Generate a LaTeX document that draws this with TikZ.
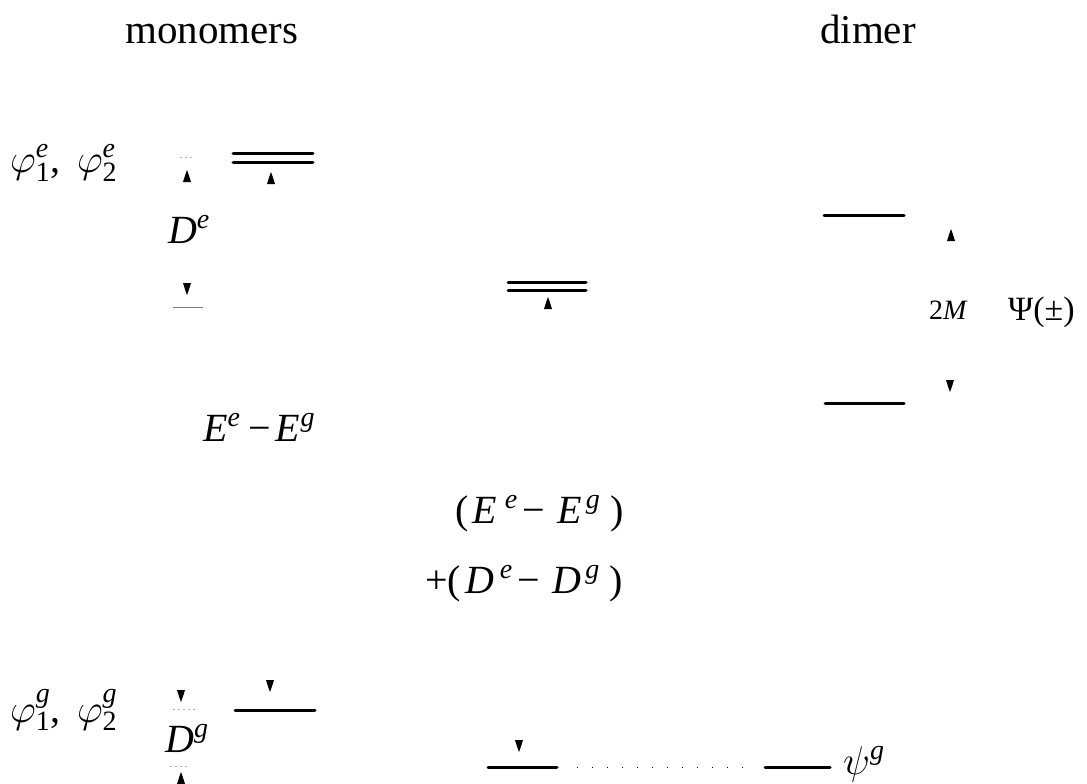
\documentclass[tikz,border=0pt]{standalone}
\usepackage{fix-cm}
\usepackage{amsmath}
\usepackage{fontspec}
\setmainfont{Liberation Serif}
\tikzset{
  x=1pt, y=-1pt,
  lvl/.style={line width=3pt, line cap=round},
  faint/.style={gray!60, line width=0.8pt, dash pattern=on 2pt off 3pt},
  head/.style={font=\fontsize{41}{46}\selectfont, inner sep=0pt},
  lab/.style={font=\fontsize{40}{46}\selectfont, inner sep=0pt},
  small/.style={font=\fontsize{28}{32}\selectfont, inner sep=0pt},
  uptip/.pic={\fill (0,0) .. controls (-1.5,4) .. (-4,12) -- (4,12) .. controls (1.5,4) .. (0,0) -- cycle;},
  downtip/.pic={\fill (0,0) .. controls (-1.5,-4) .. (-4,-12) -- (4,-12) .. controls (1.5,-4) .. (0,0) -- cycle;}
}
\newcommand{\ii}[1]{\textit{#1}}
\newcommand{\supit}[1]{\textsuperscript{\ii{#1}}}
\begin{document}
\begin{tikzpicture}
\useasboundingbox (0,0) rectangle (1087,784);
% headings
\node[head, anchor=base] (mono) at (212,44) {monomers};
\node[head, anchor=base] (dim) at (868,44) {dimer};
% monomer excited
\node[lab, anchor=base west] (phie) at (10,172) {$\varphi^{\ii{e}}_{\text{1}}$, \,$\varphi^{\ii{e}}_{\text{2}}$};
\coordinate (fe1a) at (180,157); \coordinate (fe1b) at (193,157);
\draw[faint] (fe1a) -- (fe1b);
\pic at (187,170) {uptip};
\coordinate (ee1) at (233,153); \coordinate (ee2) at (313,153);
\coordinate (ee3) at (233,162); \coordinate (ee4) at (313,162);
\draw[lvl] (ee1) -- (ee2);
\draw[lvl] (ee3) -- (ee4);
\pic at (271,172) {uptip};
\node[lab, anchor=base] (De) at (189,243) {\ii{D}\supit{e}};
\pic at (187,295) {downtip};
\coordinate (fe2a) at (173,307); \coordinate (fe2b) at (203,307);
\draw[gray, line width=1pt] (fe2a) -- (fe2b);
% middle excited double line
\coordinate (me1) at (508,282); \coordinate (me2) at (586,282);
\coordinate (me3) at (508,290); \coordinate (me4) at (586,290);
\draw[lvl] (me1) -- (me2);
\draw[lvl] (me3) -- (me4);
\pic at (548,297) {uptip};
% dimer excited
\coordinate (du1) at (824,215); \coordinate (du2) at (904,215);
\draw[lvl] (du1) -- (du2);
\pic at (951,229) {uptip};
\node[small, anchor=base west] (twoM) at (929,319) {2\ii{M}};
\node[lab, anchor=base west, font=\fontsize{34}{40}\selectfont] (Psi) at (1008,320) {Ψ(±)};
\coordinate (dl1) at (825,403); \coordinate (dl2) at (904,403);
\draw[lvl] (dl1) -- (dl2);
\pic at (950,392) {downtip};
% energy labels
\node[lab, anchor=base west] (EE) at (203,441) {\ii{E}\supit{e}\hspace{8pt}−\hspace{4pt}\ii{E}\hspace{1pt}\supit{g}};
\node[lab, anchor=base west] (EE2) at (455,523) {(\hspace{4pt}\ii{E}\hspace{8pt}\supit{e}\hspace{5pt}−\hspace{12pt}\ii{E}\hspace{4pt}\supit{g}\hspace{10pt})};
\node[lab, anchor=base west] (DD) at (425,593) {+(\hspace{4pt}\ii{D}\hspace{6pt}\supit{e}\hspace{5pt}−\hspace{12pt}\ii{D}\hspace{4pt}\supit{g}\hspace{10pt})};
% monomer ground
\node[lab, anchor=base west] (phig) at (10,722) {$\varphi^{\ii{g}}_{\text{1}}$, \,$\varphi^{\ii{g}}_{\text{2}}$};
\pic at (181,702) {downtip};
\coordinate (fg1a) at (173,709); \coordinate (fg1b) at (197,709);
\draw[faint] (fg1a) -- (fg1b);
\node[lab, anchor=base] (Dg) at (187,752) {\ii{D}\supit{g}};
\coordinate (fg2a) at (170,766); \coordinate (fg2b) at (187,766);
\draw[faint] (fg2a) -- (fg2b);
\pic at (181,772) {uptip};
\coordinate (mg1) at (235,710); \coordinate (mg2) at (315,710);
\draw[lvl] (mg1) -- (mg2);
\pic at (270,692) {downtip};
% middle ground + dimer ground
\coordinate (cg1) at (488,767); \coordinate (cg2) at (557,767);
\draw[lvl] (cg1) -- (cg2);
\pic at (519,752) {downtip};
\coordinate (dot1) at (577,767); \coordinate (dot2) at (753,767);
\draw[line width=1pt, dash pattern=on 1pt off 14pt] (dot1) -- (dot2);
\coordinate (gg1) at (765,767); \coordinate (gg2) at (830,767);
\draw[lvl] (gg1) -- (gg2);
\node[lab, anchor=base west] (psig) at (843,774) {$\psi^{\ii{g}}$};
\end{tikzpicture}
\end{document}
